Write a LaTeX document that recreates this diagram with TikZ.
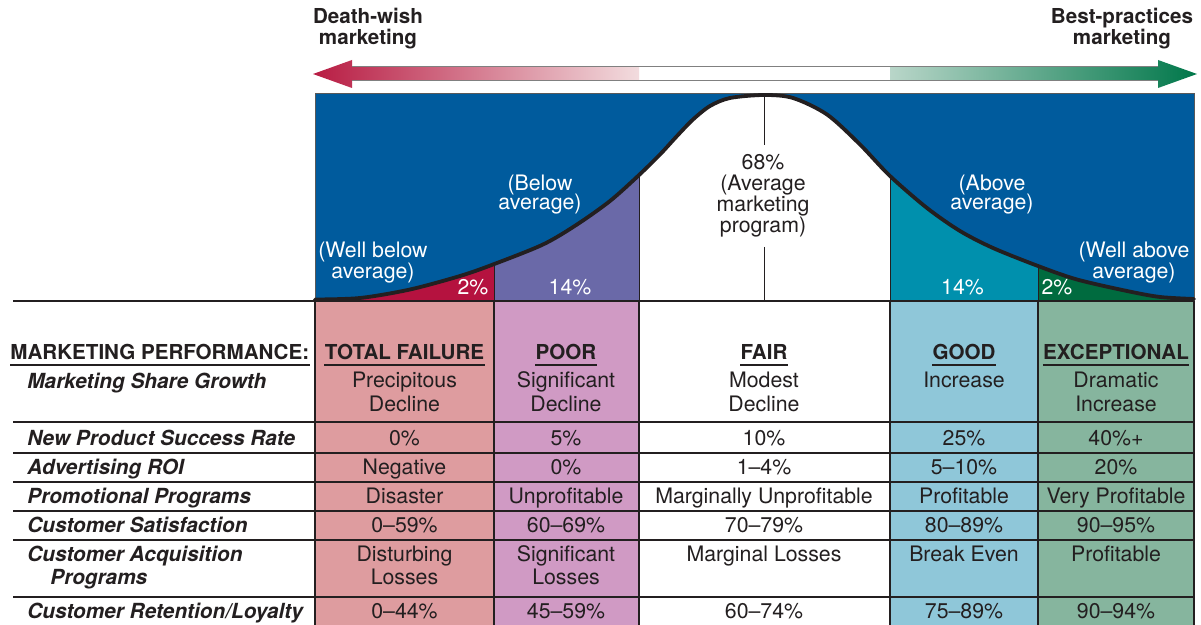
\documentclass[tikz,border=0pt]{standalone}
\usepackage{fontspec}
\setmainfont{TeX Gyre Heros}
\definecolor{cblue}{HTML}{005B9D}
\definecolor{cred}{HTML}{B5123F}
\definecolor{cpurple}{HTML}{6A69A8}
\definecolor{cteal}{HTML}{0090AD}
\definecolor{cdgreen}{HTML}{006B3F}
\definecolor{tpink}{HTML}{DE9C9F}
\definecolor{tlilac}{HTML}{D09AC4}
\definecolor{tblue}{HTML}{8FC7D9}
\definecolor{tgreen}{HTML}{86B59E}
\definecolor{ink}{HTML}{231F20}
\definecolor{arrred}{HTML}{B81C43}
\definecolor{arrpink}{HTML}{F2DCDE}
\definecolor{arrlgreen}{HTML}{B9D6C9}
\definecolor{arrgreen}{HTML}{00774A}
\begin{document}
\begin{tikzpicture}[x=0.5pt,y=-0.5pt,
  txt/.style={inner sep=0pt, anchor=base, font=\fontsize{10.65}{12}\selectfont, text=ink},
  lab/.style={txt, anchor=base west, font=\fontsize{10.4}{12}\selectfont\bfseries\itshape},
  hdr/.style={txt, font=\fontsize{10.3}{12}\selectfont\bfseries},
  wht/.style={txt, text=white},
  grid/.style={draw=ink, line width=0.6pt},
  uline/.style={draw=ink, line width=0.65pt},
]
\useasboundingbox (0,0) rectangle (1201,625);
\fill[white] (0,0) rectangle (1201,625);

% ---- arrow ----
\shade[left color=arrred, right color=arrpink] (313,74) -- (352,60) -- (352,67) -- (639,67) -- (639,81) -- (352,81) -- (352,88) -- cycle;
\shade[left color=arrlgreen, right color=arrgreen] (890,67) -- (1158,67) -- (1158,60) -- (1197,74) -- (1158,88) -- (1158,81) -- (890,81) -- cycle;
\draw[gray, line width=0.5pt] (352,67) -- (1158,67) (352,81) -- (1158,81);

% ---- curve panel ----
\fill[cblue] (315,94) rectangle (1194,301);
\begin{scope}
\clip (315,301) -- plot[smooth] coordinates {(315,299.5) (360,298) (410,289.5) (460,276) (493,264.5) (543,244.5) (577,224.5) (610,201) (638,176) (660,154.5) (677,136) (693,119.5) (710,106) (730,98) (764,95) (793,98) (827,114.5) (860,144.5) (890,176) (927,208) (960,231) (993,248) (1038,266) (1077,279.5) (1127,291) (1160,297) (1194,299)} -- (1194,301) -- cycle;
\fill[cred] (315,90) rectangle (494,301);
\fill[cpurple] (494,90) rectangle (639,301);
\fill[white] (639,90) rectangle (890,301);
\fill[cteal] (890,90) rectangle (1038,301);
\fill[cdgreen] (1038,90) rectangle (1194,301);
\foreach \x in {494,639,890,1038} \draw[ink, line width=0.5pt] (\x,90) -- (\x,301);
\end{scope}
\draw[gray!70!black, line width=0.5pt] (315,94) rectangle (1194,301);
\draw[ink, line width=0.5pt] (764,95) -- (764,145) (764,247) -- (764,301);
\draw[ink, line width=1.9pt, line cap=round] plot[smooth] coordinates {(315,299.5) (360,298) (410,289.5) (460,276) (493,264.5) (543,244.5) (577,224.5) (610,201) (638,176) (660,154.5) (677,136) (693,119.5) (710,106) (730,98) (764,95) (793,98) (827,114.5) (860,144.5) (890,176) (927,208) (960,231) (993,248) (1038,266) (1077,279.5) (1127,291) (1160,297) (1194,299)};

% ---- table fills ----
\fill[tpink] (315,301) rectangle (494,625);
\fill[tlilac] (494,301) rectangle (639,625);
\fill[tblue] (890,301) rectangle (1038,625);
\fill[tgreen] (1038,301) rectangle (1194,625);
\foreach \y in {301,422,453,482,511,540,597} \draw[grid] (13,\y) -- (1194,\y);
\foreach \x in {315,494,639,890,1038,1194} \draw[grid] (\x,301) -- (\x,625);

% ---- top labels ----
\node[hdr] (dw1) at (368,24) {Death-wish};
\node[hdr] (dw2) at (368,45) {marketing};
\node[hdr] (bp1) at (1122,24) {Best-practices};
\node[hdr] (bp2) at (1122,45) {marketing};

% ---- curve labels ----
\node[wht] (wb1) at (373,258) {(Well below};
\node[wht] (wb2) at (373,279) {average)};
\node[wht] (ba1) at (540,190.5) {(Below};
\node[wht] (ba2) at (540,210) {average)};
\node[wht] (p2l) at (473,295) {2\%};
\node[wht] (p14l) at (570,295) {14\%};
\node[txt] (av1) at (763,170) {68\%};
\node[txt] (av2) at (763,191) {(Average};
\node[txt] (av3) at (763,212) {marketing};
\node[txt] (av4) at (763,233) {program)};
\node[wht] (aa1) at (992,191) {(Above};
\node[wht] (aa2) at (992,210) {average)};
\node[wht] (wa1) at (1134,258) {(Well above};
\node[wht] (wa2) at (1134,279) {average)};
\node[wht] (p14r) at (962.5,295) {14\%};
\node[wht] (p2r) at (1057,295) {2\%};

% ---- table headers ----
\node[hdr, anchor=base west] (mp) at (10,360) {MARKETING PERFORMANCE:};
\node[hdr] (tf) at (404.5,360) {TOTAL FAILURE};
\node[hdr] (po) at (566,360) {POOR};
\node[hdr] (fa) at (764,360) {FAIR};
\node[hdr] (go) at (964,360) {GOOD};
\node[hdr] (ex) at (1116,360) {EXCEPTIONAL};
\foreach \n in {mp,tf,po,fa,go,ex}
  \draw[uline] ([yshift=-2.5pt]\n.base west) -- ([yshift=-2.5pt]\n.base east);

% ---- row labels ----
\node[lab] (r1) at (27,389) {Marketing Share Growth};
\node[lab] (r2) at (27,446) {New Product Success Rate};
\node[lab] (r3) at (27,475) {Advertising ROI};
\node[lab] (r4) at (27,504) {Promotional Programs};
\node[lab] (r5) at (27,533) {Customer Satisfaction};
\node[lab] (r6) at (27,562) {Customer Acquisition};
\node[lab] (r6b) at (50,585) {Programs};
\node[lab] (r7) at (27,619) {Customer Retention/Loyalty};

% ---- values ----
\node[txt] (a1) at (404.5,388) {Precipitous};
\node[txt] (a1b) at (404.5,412) {Decline};
\node[txt] (b1) at (566,388) {Significant};
\node[txt] (b1b) at (566,412) {Decline};
\node[txt] (c1) at (764,388) {Modest};
\node[txt] (c1b) at (764,412) {Decline};
\node[txt] (d1) at (964,388) {Increase};
\node[txt] (e1) at (1116,388) {Dramatic};
\node[txt] (e1b) at (1116,412) {Increase};

\node[txt] (a2) at (404.5,446) {0\%};
\node[txt] (b2) at (566,446) {5\%};
\node[txt] (c2) at (764,446) {10\%};
\node[txt] (d2) at (964,446) {25\%};
\node[txt] (e2) at (1116,446) {40\%+};

\node[txt] (a3) at (404.5,475) {Negative};
\node[txt] (b3) at (566,475) {0\%};
\node[txt] (c3) at (764,475) {1--4\%};
\node[txt] (d3) at (964,475) {5--10\%};
\node[txt] (e3) at (1116,475) {20\%};

\node[txt] (a4) at (404.5,504) {Disaster};
\node[txt] (b4) at (566,504) {Unprofitable};
\node[txt] (c4) at (764,504) {Marginally Unprofitable};
\node[txt] (d4) at (964,504) {Profitable};
\node[txt] (e4) at (1116,504) {Very Profitable};

\node[txt] (a5) at (404.5,533) {0--59\%};
\node[txt] (b5) at (566,533) {60--69\%};
\node[txt] (c5) at (764,533) {70--79\%};
\node[txt] (d5) at (964,533) {80--89\%};
\node[txt] (e5) at (1116,533) {90--95\%};

\node[txt] (a6) at (404.5,562) {Disturbing};
\node[txt] (a6b) at (404.5,585) {Losses};
\node[txt] (b6) at (566,562) {Significant};
\node[txt] (b6b) at (566,585) {Losses};
\node[txt] (c6) at (764,562) {Marginal Losses};
\node[txt] (d6) at (964,562) {Break Even};
\node[txt] (e6) at (1116,562) {Profitable};

\node[txt] (a7) at (404.5,619) {0--44\%};
\node[txt] (b7) at (566,619) {45--59\%};
\node[txt] (c7) at (764,619) {60--74\%};
\node[txt] (d7) at (964,619) {75--89\%};
\node[txt] (e7) at (1116,619) {90--94\%};
\end{tikzpicture}
\end{document}
